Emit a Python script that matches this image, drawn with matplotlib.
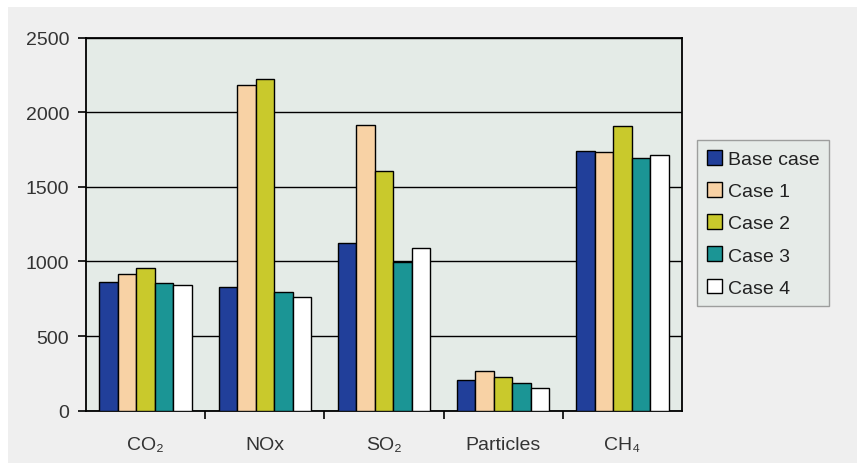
import numpy as np
import matplotlib.pyplot as plt
from matplotlib.patches import Rectangle

plt.rcParams['font.family'] = ['Liberation Sans', 'DejaVu Sans']

categories = ['CO₂', 'NOx', 'SO₂', 'Particles', 'CH₄']
series = ['Base case', 'Case 1', 'Case 2', 'Case 3', 'Case 4']
base_case = [860, 826, 1122, 205, 1740]
case_1 = [915, 2180, 1913, 268, 1730]
case_2 = [955, 2220, 1606, 228, 1908]
case_3 = [855, 792, 993, 183, 1690]
case_4 = [845, 759, 1087, 152, 1713]
colors = ['#213f9a', '#f8d2a5', '#c9c92c', '#1b9595', '#ffffff']

values = [base_case, case_1, case_2, case_3, case_4]

fig = plt.figure(figsize=(8.57, 4.64), dpi=100, facecolor='white')
# grey chart area, offset a little from the top-left corner like the source
fig.patches.append(Rectangle((8 / 857, 0), 1, 1 - 8 / 464, transform=fig.transFigure,
                             facecolor='#efefef', edgecolor='none', zorder=-10))

ax = fig.add_axes([86 / 857, 1 - 411.7 / 464, (682 - 86) / 857, (411.7 - 38.5) / 464])
ax.set_facecolor('#e4ebe7')

x = np.arange(len(categories))
w = 0.155
for i, (name, vals) in enumerate(zip(series, values)):
    ax.bar(x + (i - 2) * w, vals, width=w, color=colors[i], edgecolor='black',
           linewidth=1.0, label=name, zorder=3)

ax.set_xlim(-0.5, len(categories) - 0.5)
ax.set_ylim(0, 2500)
ax.set_yticks(np.arange(0, 2501, 500))
ax.yaxis.grid(True, color='black', linewidth=1.0, zorder=0)
ax.set_axisbelow(True)

ax.set_xticks(x)
ax.set_xticklabels(categories, fontsize=14, color='#333333')
ax.tick_params(axis='x', which='major', length=0, pad=18)
ax.set_xticks(np.arange(0.5, len(categories) - 0.5, 1), minor=True)
ax.tick_params(axis='x', which='minor', length=6, width=1.2, direction='out', color='black')
ax.tick_params(axis='y', length=6, width=1.2, direction='out', pad=6,
               labelsize=14, labelcolor='#333333')

for s in ax.spines.values():
    s.set_color('black')
    s.set_linewidth(1.3)

leg = fig.legend(loc='upper left', bbox_to_anchor=(697 / 857, 1 - 141 / 464),
                 fontsize=14, frameon=True, fancybox=False, handlelength=0.8,
                 handleheight=0.8, handletextpad=0.3, labelspacing=0.72,
                 borderpad=0.5, borderaxespad=0, labelcolor='#222222')
leg.get_frame().set_facecolor('#e4ebe7')
leg.get_frame().set_edgecolor('#8a8a8a')
leg.get_frame().set_linewidth(1.0)

fig.savefig('out.png', dpi=100, facecolor=fig.get_facecolor())
